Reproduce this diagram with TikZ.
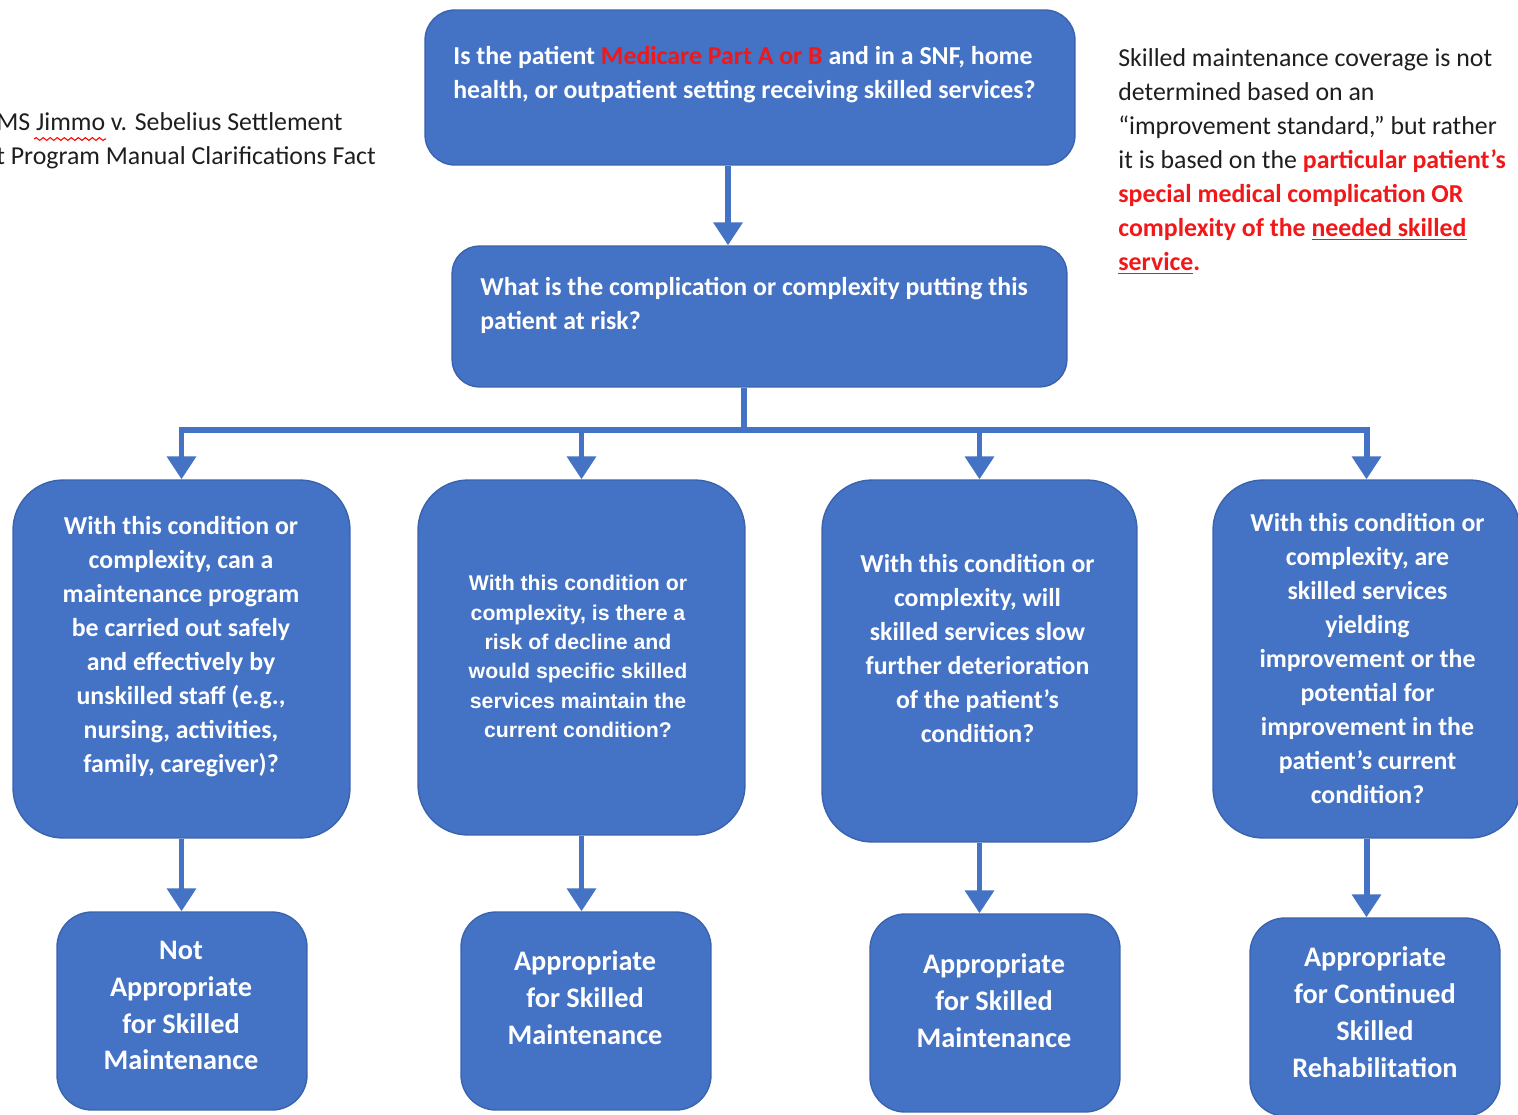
\documentclass[tikz,border=0pt]{standalone}
\usepackage{fontspec}
\setmainfont{Carlito}
\newfontfamily\arialfont{Liberation Sans}
\usetikzlibrary{arrows.meta,decorations.pathmorphing}

\definecolor{boxblue}{HTML}{4472C4}
\definecolor{boxedge}{HTML}{3A63AE}
\definecolor{alertred}{HTML}{F01818}
\definecolor{inkgray}{HTML}{1E1E1E}

\begin{document}
\begin{tikzpicture}[x=0.02cm, y=-0.02cm,
  qbox/.style={rectangle, fill=boxblue, draw=boxedge, line width=0.8pt, inner sep=0pt},
  qtext/.style={text=white, font=\bfseries\fontsize{14.7}{19.4}\selectfont, align=center, inner sep=0pt},
  atext/.style={text=white, font=\bfseries\fontsize{16.1}{21}\selectfont, align=center, inner sep=0pt},
  note/.style={text=inkgray, font=\fontsize{14.7}{19.4}\selectfont, align=left, inner sep=0pt, anchor=west},
  link/.style={draw=boxblue, line width=3.4pt},
  flow/.style={link, -{Triangle[width=16pt,length=13pt]}}]
\clip (0,0) rectangle (1518,1115);

% Entry questions
\node[qbox, rounded corners=0.6cm, minimum width=13cm, minimum height=3.1cm] (qtop) at (750,87.5) {};
\node[qtext, align=left, anchor=west] (qtopt) at (453,74.5) {Is the patient \textcolor{alertred}{Medicare Part A or B} and in a SNF, home\\health, or outpatient setting receiving skilled services?};
\node[qbox, rounded corners=0.55cm, minimum width=12.3cm, minimum height=2.82cm] (qrisk) at (759.5,316.5) {};
\node[qtext, align=left, anchor=west] (qriskt) at (480,305) {What is the complication or complexity putting this\\patient at risk?};

% Condition questions
\node[qbox, rounded corners=1cm, minimum width=6.74cm, minimum height=7.16cm] (m1) at (181.5,659) {};
\node[qtext] (m1t) at (181,646.5) {With this condition or\\complexity, can a\\maintenance program\\be carried out safely\\and effectively by\\unskilled staff (e.g.,\\nursing, activities,\\family, caregiver)?};
\node[qbox, rounded corners=1cm, minimum width=6.54cm, minimum height=7.1cm] (m2) at (581.5,657.5) {};
\node[qtext, font=\arialfont\bfseries\fontsize{12.1}{16.7}\selectfont] (m2t) at (578,656.5) {With this condition or\\complexity, is there a\\risk of decline and\\would specific skilled\\services maintain the\\current condition?};
\node[qbox, rounded corners=1cm, minimum width=6.3cm, minimum height=7.24cm] (m3) at (979.5,661) {};
\node[qtext] (m3t) at (977.5,648.5) {With this condition or\\complexity, will\\skilled services slow\\further deterioration\\of the patient’s\\condition?};
\node[qbox, rounded corners=1cm, minimum width=6.14cm, minimum height=7.16cm] (m4) at (1366.5,659) {};
\node[qtext] (m4t) at (1367.5,658.5) {With this condition or\\complexity, are\\skilled services\\yielding\\improvement or the\\potential for\\improvement in the\\patient’s current\\condition?};

% Outcomes
\node[qbox, rounded corners=0.7cm, minimum width=5cm, minimum height=3.96cm] (b1) at (182,1011) {};
\node[atext] (b1t) at (181,1005.5) {Not\\Appropriate\\for Skilled\\Maintenance};
\node[qbox, rounded corners=0.7cm, minimum width=5cm, minimum height=3.96cm] (b2) at (586,1011) {};
\node[atext] (b2t) at (585,998) {Appropriate\\for Skilled\\Maintenance};
\node[qbox, rounded corners=0.7cm, minimum width=5cm, minimum height=3.96cm] (b3) at (995,1013) {};
\node[atext] (b3t) at (994,1001) {Appropriate\\for Skilled\\Maintenance};
\node[qbox, rounded corners=0.7cm, minimum width=5cm, minimum height=3.96cm] (b4) at (1375,1017) {};
\node[atext] (b4t) at (1375,1012.5) {Appropriate\\for Continued\\Skilled\\Rehabilitation};

% Side notes
\node[note] (settle) at (-4,141) {MS Jimmo v. Sebelius Settlement\\t Program Manual Clarifications Fact};
\draw[red, line width=0.6pt, decorate, decoration={snake, amplitude=0.8pt, segment length=4pt}] (34,139) -- (106,139);
\node[note] (rule) at (1118,161.5) {Skilled maintenance coverage is not\\determined based on an\\“improvement standard,” but rather\\it is based on the \textcolor{alertred}{\textbf{particular patient’s}}\\\textcolor{alertred}{\textbf{special medical complication OR}}\\\textcolor{alertred}{\textbf{complexity of the \underline{needed skilled}}}\\\textcolor{alertred}{\textbf{\underline{service}.}}};

% Arrows
\draw[flow] ([xshift=-0.44cm]qtop.south) -- ([xshift=-0.44cm]qtop.south |- qrisk.north);
\coordinate (split) at (744,430);
\draw[link] (qrisk.south -| split) -- (split);
\draw[link, line cap=rect] (split -| m1.north) -- (split -| m4.north);
\foreach \m in {m1,m2,m3,m4}
  \draw[flow] (split -| \m.north) -- (\m.north);
\foreach \m/\b in {m1/b1,m2/b2,m3/b3,m4/b4}
  \draw[flow] (\m.south) -- (\m.south |- \b.north);
\end{tikzpicture}
\end{document}
